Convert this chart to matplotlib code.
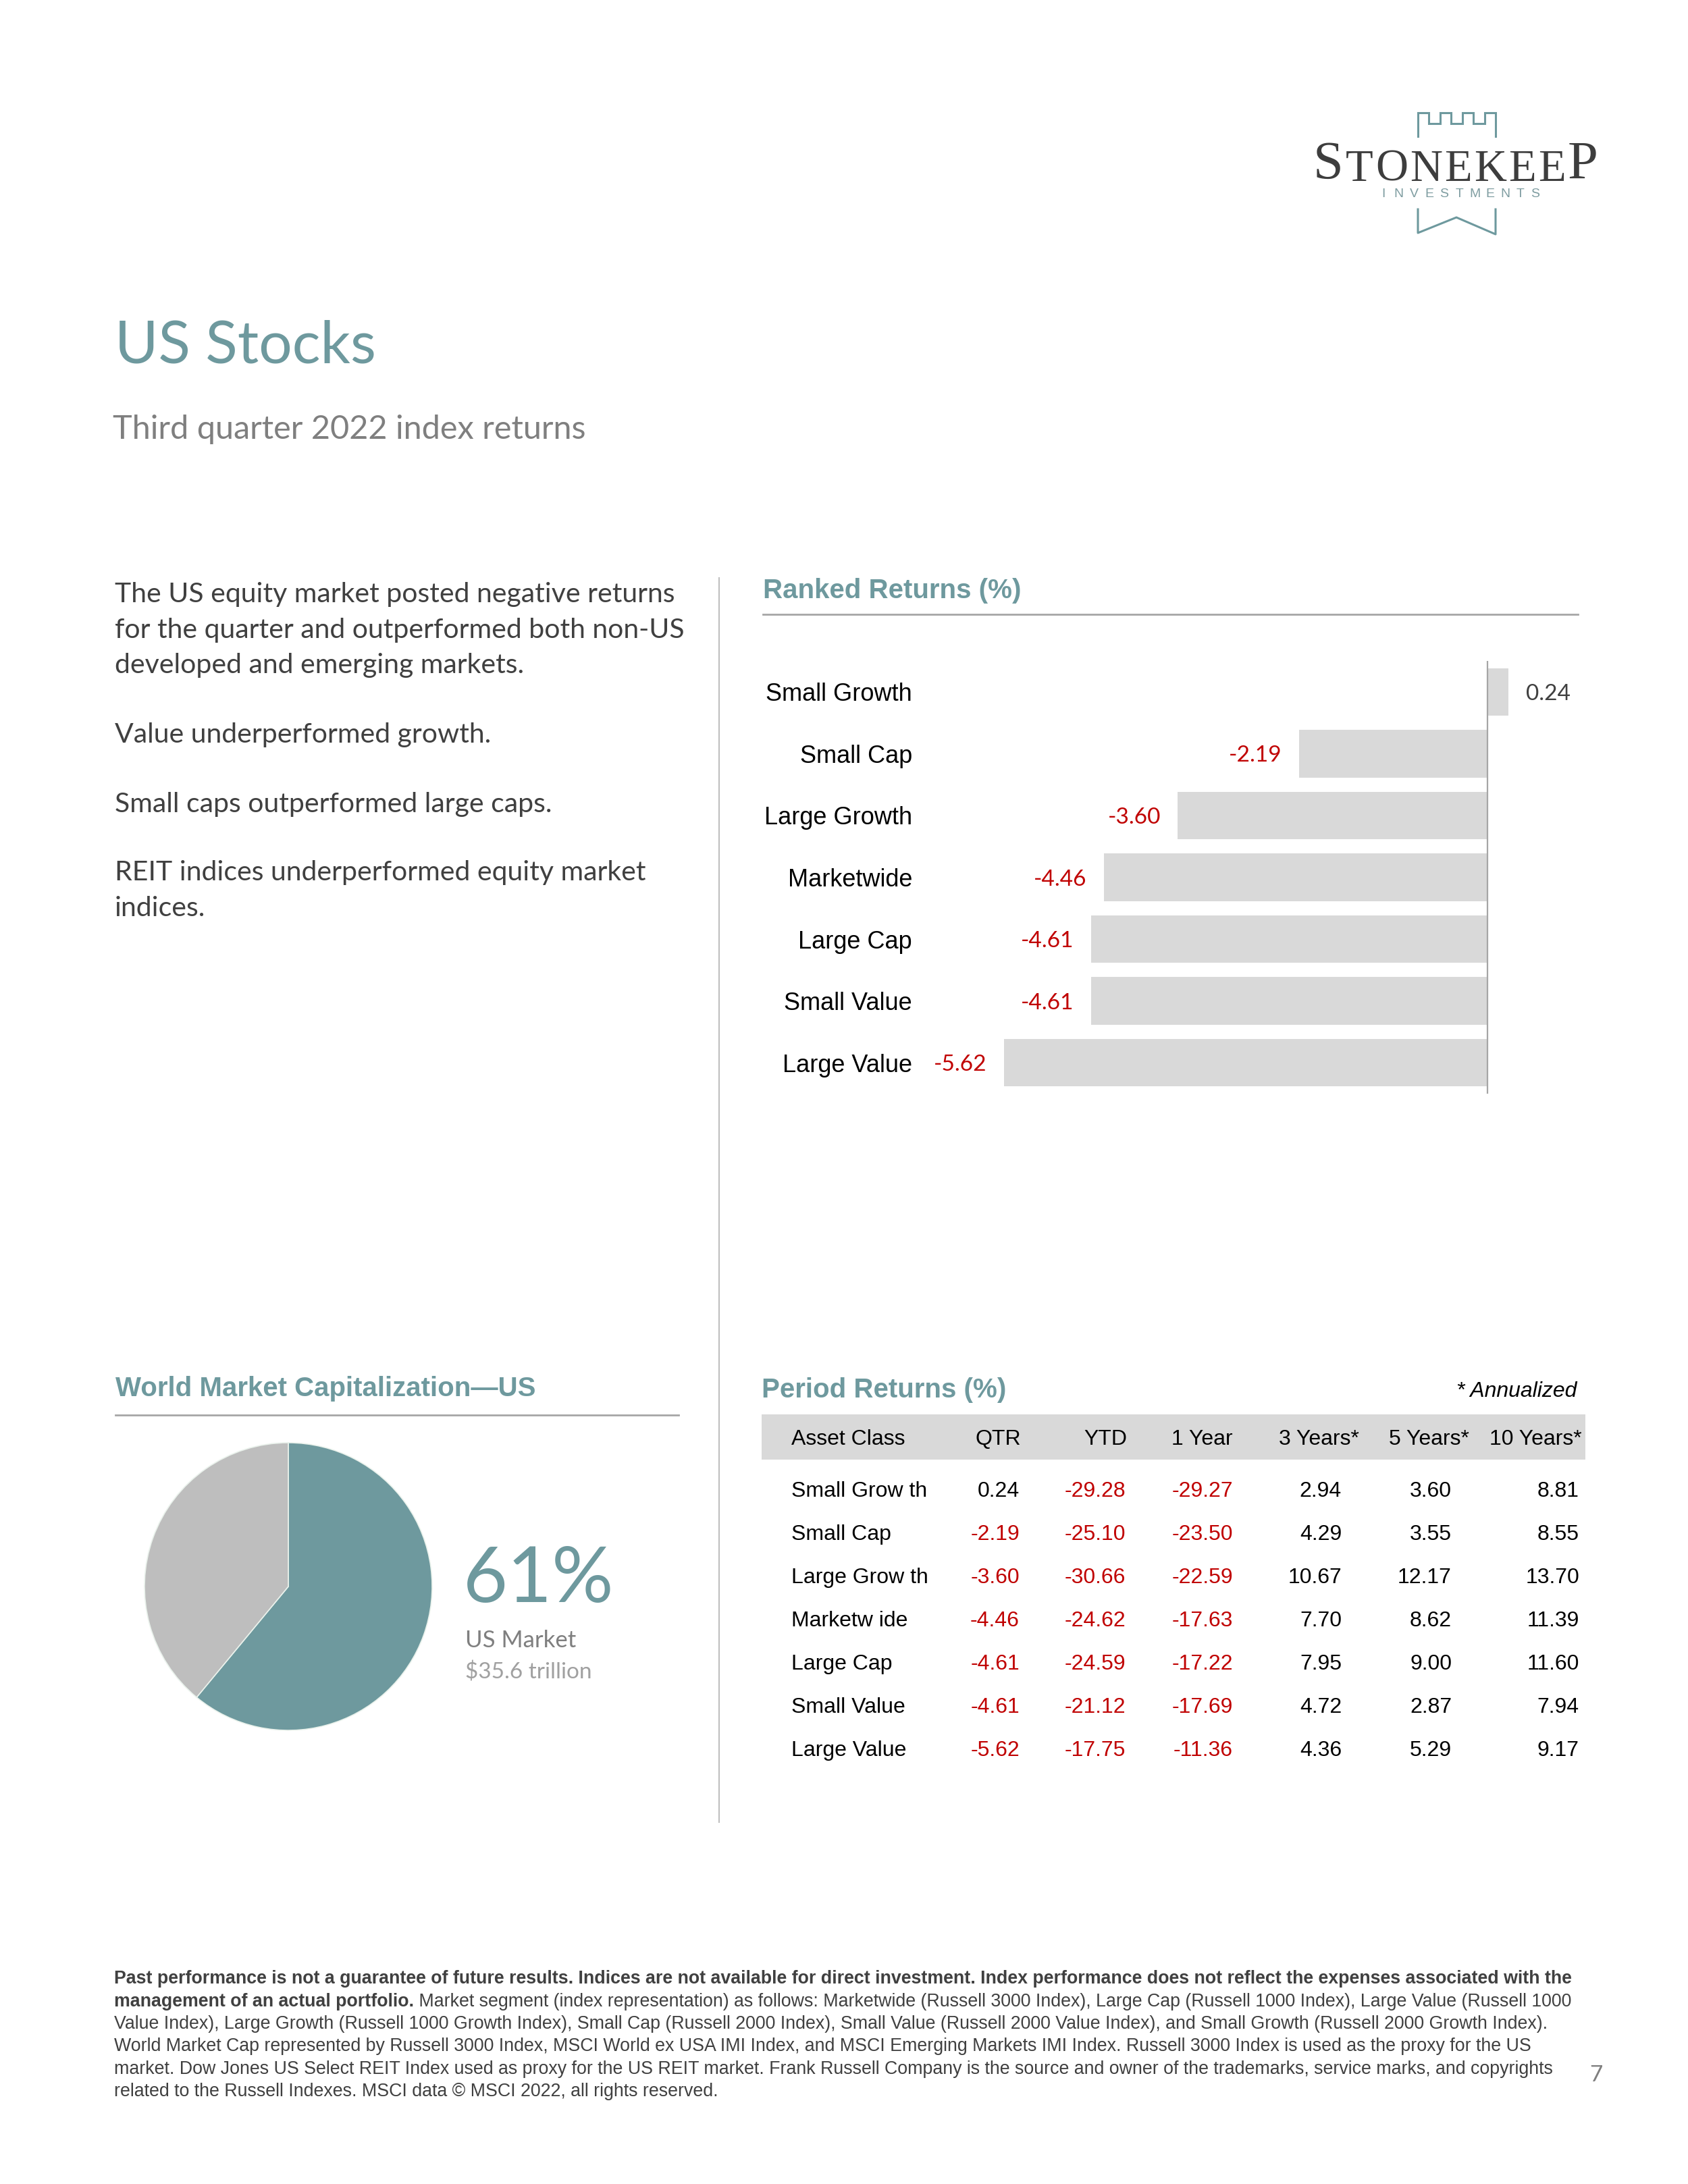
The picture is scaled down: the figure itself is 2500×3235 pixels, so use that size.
import matplotlib
matplotlib.use("Agg")
import matplotlib.pyplot as plt
from matplotlib import font_manager
from matplotlib.patches import Rectangle

# Dados do gráfico
classes = ["Small Growth", "Small Cap", "Large Growth", "Marketwide",
           "Large Cap", "Small Value", "Large Value"]
classes_tabela = ["Small Grow th", "Small Cap", "Large Grow th", "Marketw ide",
                  "Large Cap", "Small Value", "Large Value"]
qtr = [0.24, -2.19, -3.60, -4.46, -4.61, -4.61, -5.62]
ytd = [-29.28, -25.10, -30.66, -24.62, -24.59, -21.12, -17.75]
um_ano = [-29.27, -23.50, -22.59, -17.63, -17.22, -17.69, -11.36]
tres_anos = [2.94, 4.29, 10.67, 7.70, 7.95, 4.72, 4.36]
cinco_anos = [3.60, 3.55, 12.17, 8.62, 9.00, 2.87, 5.29]
dez_anos = [8.81, 8.55, 13.70, 11.39, 11.60, 7.94, 9.17]
colunas = ["Asset Class", "QTR", "YTD", "1 Year", "3 Years*", "5 Years*", "10 Years*"]
fatias = [61, 39]  # US market vs resto do mundo

# Cores
TEAL = "#6e999e"
CINZA_TXT = "#404040"
VERMELHO = "#c00000"

plt.rcParams["font.family"] = ["Liberation Sans", "DejaVu Sans"]

W, H = 2500, 3235
fig = plt.figure(figsize=(W / 100, H / 100), dpi=100)
r = fig.canvas.get_renderer()


def ret(x0, y0, x1, y1):
    # converte pixels (origem no topo) para fração da figura
    return [x0 / W, 1 - y1 / H, (x1 - x0) / W, (y1 - y0) / H]


# Eixo de fundo em pixels para textos e linhas
bg = fig.add_axes([0, 0, 1, 1])
bg.set_xlim(0, W)
bg.set_ylim(H, 0)
bg.axis("off")

# Logo
bg.plot([2100, 2100, 2116, 2116, 2133, 2133, 2149, 2149, 2166, 2166, 2182, 2182, 2199, 2199, 2215, 2215],
        [202, 167, 167, 183, 183, 167, 167, 183, 183, 167, 167, 183, 183, 167, 167, 202],
        color=TEAL, lw=2.2, solid_joinstyle="miter")
bg.plot([2100, 2100, 2157, 2215, 2215], [310, 345, 322, 347, 310], color=TEAL, lw=2.2)
letras = []
ant = bg.text(1945, 265, "S", family="Liberation Serif", fontsize=58, color="#3d3d3d", va="baseline")
letras.append(ant)
for k, c in enumerate("TONEKEEP"):
    tam = 58 if c == "P" and k == 7 else 48
    ant = bg.annotate(c, xy=(1, 0), xycoords=ant, xytext=(0, 0), textcoords="offset points",
                      family="Liberation Serif", fontsize=tam, color="#3d3d3d", va="bottom", ha="left")
    letras.append(ant)
fig.canvas.draw()
larg_logo = letras[-1].get_window_extent(r).x1 - letras[0].get_window_extent(r).x0
passo = (422 - larg_logo) / 8 * 0.72
for t in letras[1:]:
    t.xyann = (passo, 0)
for i, letra in enumerate("INVESTMENTS"):
    bg.text(2049 + i * 22.5, 287, letra, fontsize=14, color="#7f9da1", ha="center", va="center")

# Título
bg.text(170, 538, "US Stocks", family="Lato", fontsize=63, color=TEAL, va="baseline")
bg.text(167, 650, "Third quarter 2022 index returns", family="Lato",
        fontsize=35, color="#7f7f7f", va="baseline")

# Texto da esquerda
textos = [("The US equity market posted negative returns", 892),
          ("for the quarter and outperformed both non-US", 944.5),
          ("developed and emerging markets.", 997),
          ("Value underperformed growth.", 1100),
          ("Small caps outperformed large caps.", 1203),
          ("REIT indices underperformed equity market", 1304),
          ("indices.", 1357)]
for s, y in textos:
    bg.text(170, y, s, family="Lato", fontsize=29.5, color=CINZA_TXT, va="baseline")

# Divisória vertical
bg.plot([1065, 1065], [856, 2699], color="#bfbfbf", lw=1.5)

# Cabeçalhos
bg.text(1130, 875, "Ranked Returns (%)", fontsize=29, fontweight="bold", color=TEAL, va="center")
bg.plot([1130, 2337], [910, 910], color="#a6a6a6", lw=2)
bg.text(171, 2057, "World Market Capitalization\u2014US", fontsize=29, fontweight="bold", color=TEAL, va="center")
bg.plot([171, 1005], [2096, 2096], color="#a6a6a6", lw=2)
bg.text(1128, 2059, "Period Returns (%)", fontsize=29, fontweight="bold", color=TEAL, va="center")
bg.text(2335, 2061, "* Annualized", fontsize=23, style="italic", color="black", ha="right", va="center")

# Gráfico de barras
ax = fig.add_axes(ret(1370, 979, 2337, 1620))
ax.barh(range(len(qtr)), qtr, height=0.77, color="#d9d9d9")
ax.axvline(0, color="#a6a6a6", lw=1.6)
ax.set_xlim(-6.538, 1.052)
ax.set_ylim(len(qtr) - 0.5, -0.5)
ax.set_yticks(range(len(classes)))
ax.set_yticklabels(classes, fontsize=26, color="black")
ax.tick_params(axis="y", length=0, pad=13.7)
ax.set_xticks([])
for sp in ax.spines.values():
    sp.set_visible(False)
ax.patch.set_alpha(0)
for i, v in enumerate(qtr):
    if v < 0:
        ax.annotate(f"{v:.2f}", (v, i), xytext=(-18, 0), textcoords="offset points",
                    ha="right", va="center_baseline", color=VERMELHO, fontsize=24, family="Lato")
    else:
        ax.annotate(f"{v:.2f}", (v, i), xytext=(19, 0), textcoords="offset points",
                    ha="left", va="center_baseline", color=CINZA_TXT, fontsize=24, family="Lato")

# Pizza
axp = fig.add_axes(ret(214, 2137, 640, 2563))
axp.pie(fatias, colors=[TEAL, "#bebebe"], startangle=90, counterclock=False,
        wedgeprops=dict(edgecolor="#eaf2ec", linewidth=1.2))
axp.set_xlim(-1, 1)
axp.set_ylim(-1, 1)
bg.text(686, 2373, f"{fatias[0]}%", family="Lato", fontsize=82, color=TEAL, va="baseline")
bg.text(689, 2440, "US Market", family="Lato", fontsize=25, color="#7f7f7f", va="baseline")
bg.text(689, 2486, "$35.6 trillion", family="Lato", fontsize=24, color="#a0a0a0", va="baseline")

# Tabela
bg.add_patch(Rectangle((1128, 2095), 2348 - 1128, 2162 - 2095, color="#d9d9d9", lw=0))
x_cab = [1172, 1512, 1669, 1826, 2013, 2176, 2343]
x_dados = [1510, 1667, 1826, 1987, 2150, 2339]
for j, c in enumerate(colunas):
    bg.text(x_cab[j], 2140, c, fontsize=23, color="black", va="baseline",
            ha="left" if j == 0 else "right")
valores = [qtr, ytd, um_ano, tres_anos, cinco_anos, dez_anos]
for i, nome in enumerate(classes_tabela):
    y = 2217 + i * 64
    bg.text(1172, y, nome, fontsize=23, color="black", va="baseline")
    for j, serie in enumerate(valores):
        v = serie[i]
        bg.text(x_dados[j], y, f"{v:.2f}", fontsize=23, va="baseline", ha="right",
                color=VERMELHO if v < 0 else "black")

# Rodapé
nomes = {f.name for f in font_manager.fontManager.ttflist}
fonte_nota = "Liberation Sans Narrow" if "Liberation Sans Narrow" in nomes else "Liberation Sans"
linhas = [
    "Value Index), Large Growth (Russell 1000 Growth Index), Small Cap (Russell 2000 Index), Small Value (Russell 2000 Value Index), and Small Growth (Russell 2000 Growth Index).",
    "World Market Cap represented by Russell 3000 Index, MSCI World ex USA IMI Index, and MSCI Emerging Markets IMI Index. Russell 3000 Index is used as the proxy for the US",
    "market. Dow Jones US Select REIT Index used as proxy for the US REIT market. Frank Russell Company is the source and owner of the trademarks, service marks, and copyrights",
    "related to the Russell Indexes. MSCI data \u00a9 MSCI 2022, all rights reserved.",
]
nota = []
t1 = bg.text(169, 2938, "Past performance is not a guarantee of future results. Indices are not available for direct investment. Index performance does not reflect the expenses associated with the",
             family=fonte_nota, fontweight="bold", fontsize=20, color=CINZA_TXT, va="baseline")
t2 = bg.text(169, 2971.5, "management of an actual portfolio.", family=fonte_nota, fontweight="bold",
             fontsize=20, color=CINZA_TXT, va="baseline")
t2b = bg.annotate(" Market segment (index representation) as follows: Marketwide (Russell 3000 Index), Large Cap (Russell 1000 Index), Large Value (Russell 1000",
                  xy=(1, 0), xycoords=t2, va="bottom", ha="left", family=fonte_nota,
                  fontsize=20, color=CINZA_TXT)
nota += [t1, t2, t2b]
for k, s in enumerate(linhas):
    nota.append(bg.text(169, 3005 + k * 33.4, s, family=fonte_nota, fontsize=20,
                        color=CINZA_TXT, va="baseline"))
larg = t1.get_window_extent(r).width
for t in nota:
    t.set_fontsize(20 * 2164 / larg)
bg.text(2354, 3074, "7", family="Lato", fontsize=24, color="#7f7f7f", va="center")

fig.savefig("out.png", dpi=100)
